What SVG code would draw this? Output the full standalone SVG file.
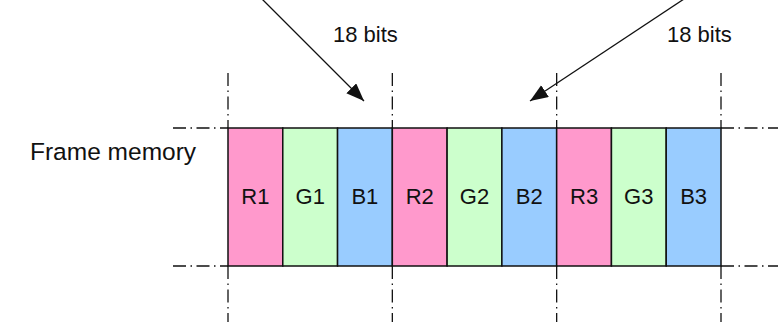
<svg xmlns="http://www.w3.org/2000/svg" width="778" height="327" viewBox="0 0 778 327">
  <style>
    .lbl { font-family: "Liberation Sans", Arial, sans-serif; font-size: 22px; fill: #111; }
    .big { font-family: "Liberation Sans", Arial, sans-serif; font-size: 24.5px; fill: #111; }
    .cell { stroke: #111; stroke-width: 1.5; }
    .r { fill: #FF99CC; }
    .g { fill: #CCFFCC; }
    .b { fill: #99CCFF; }
    .dd { stroke: #111; stroke-width: 1.3; fill: none; stroke-dasharray: 13 4.5 1.5 4.5; }
    .arr { stroke: #111; stroke-width: 1.3; fill: none; }
  </style>
  <defs>
    <marker id="ah" markerUnits="userSpaceOnUse" markerWidth="19" markerHeight="15" refX="18" refY="7" orient="auto">
      <path d="M0,0 L18,7 L0,14 z" fill="#111"/>
    </marker>
  </defs>
  <rect x="0" y="0" width="778" height="327" fill="#fff"/>

  <g id="guides">
    <line class="dd" x1="228" y1="73" x2="228" y2="128"/>
    <line class="dd" x1="392.33" y1="73" x2="392.33" y2="128"/>
    <line class="dd" x1="556.67" y1="73" x2="556.67" y2="128"/>
    <line class="dd" x1="721" y1="73" x2="721" y2="128"/>
    <line class="dd" x1="228" y1="266" x2="228" y2="322"/>
    <line class="dd" x1="392.33" y1="266" x2="392.33" y2="322"/>
    <line class="dd" x1="556.67" y1="266" x2="556.67" y2="322"/>
    <line class="dd" x1="721" y1="266" x2="721" y2="322"/>
    <line class="dd" x1="173" y1="128" x2="228" y2="128"/>
    <line class="dd" x1="173" y1="266" x2="228" y2="266"/>
    <line class="dd" x1="721" y1="128" x2="778" y2="128"/>
    <line class="dd" x1="721" y1="266" x2="778" y2="266"/>
  </g>

  <g id="frame-memory-label">
    <text class="big" x="30" y="160">Frame memory</text>
  </g>

  <g id="cell-R1"><rect class="cell r" x="228" y="128" width="54.78" height="138"/><text class="lbl" x="255.4" y="204" text-anchor="middle">R1</text></g>
  <g id="cell-G1"><rect class="cell g" x="282.78" y="128" width="54.78" height="138"/><text class="lbl" x="310.2" y="204" text-anchor="middle">G1</text></g>
  <g id="cell-B1"><rect class="cell b" x="337.56" y="128" width="54.78" height="138"/><text class="lbl" x="364.9" y="204" text-anchor="middle">B1</text></g>
  <g id="cell-R2"><rect class="cell r" x="392.33" y="128" width="54.78" height="138"/><text class="lbl" x="419.7" y="204" text-anchor="middle">R2</text></g>
  <g id="cell-G2"><rect class="cell g" x="447.11" y="128" width="54.78" height="138"/><text class="lbl" x="474.5" y="204" text-anchor="middle">G2</text></g>
  <g id="cell-B2"><rect class="cell b" x="501.89" y="128" width="54.78" height="138"/><text class="lbl" x="529.3" y="204" text-anchor="middle">B2</text></g>
  <g id="cell-R3"><rect class="cell r" x="556.67" y="128" width="54.78" height="138"/><text class="lbl" x="584.1" y="204" text-anchor="middle">R3</text></g>
  <g id="cell-G3"><rect class="cell g" x="611.44" y="128" width="54.78" height="138"/><text class="lbl" x="638.8" y="204" text-anchor="middle">G3</text></g>
  <g id="cell-B3"><rect class="cell b" x="666.22" y="128" width="54.78" height="138"/><text class="lbl" x="693.6" y="204" text-anchor="middle">B3</text></g>

  <g id="bits-label-1"><text class="lbl" x="333" y="42">18 bits</text></g>
  <g id="bits-label-2"><text class="lbl" x="667" y="42">18 bits</text></g>

  <g id="connectors">
    <line class="arr" x1="262" y1="-1" x2="364" y2="101" marker-end="url(#ah)"/>
    <line class="arr" x1="684" y1="-1" x2="530" y2="101" marker-end="url(#ah)"/>
  </g>
</svg>
